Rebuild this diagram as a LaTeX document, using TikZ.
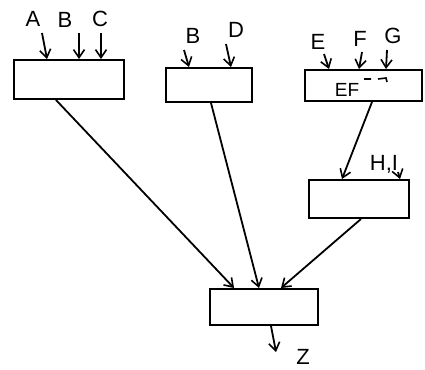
\documentclass[tikz,border=0pt]{standalone}
\usepackage{fontspec}
\setmainfont{Liberation Sans}
\usetikzlibrary{arrows.meta}
\begin{document}
\begin{tikzpicture}[x=1pt,y=-1pt,
  box/.style={draw,line width=2pt,rectangle,inner sep=0pt},
  lbl/.style={font=\fontsize{22}{24}\selectfont},
  wire/.style={line width=1.8pt,-{Straight Barb[length=8pt,width=11pt,line width=1.6pt]}},
  plain/.style={line width=1.6pt}]
\useasboundingbox (0,0) rectangle (425,369);
% boxes
\node[box,minimum width=110pt,minimum height=39pt] (b1) at (69,79.5) {};
\node[box,minimum width=86pt,minimum height=34pt] (b2) at (209,85) {};
\node[box,minimum width=117pt,minimum height=31pt] (b3) at (363.5,85.5) {};
\node[box,minimum width=100pt,minimum height=38pt] (b4) at (359,199) {};
\node[box,minimum width=108pt,minimum height=36pt] (b5) at (264,307) {};
% labels
\node[lbl] (A) at (33,19) {A};
\node[lbl] (B1) at (65,20) {B};
\node[lbl] (C) at (100,19) {C};
\node[lbl] (B2) at (193,36) {B};
\node[lbl] (D) at (236,30) {D};
\node[lbl] (E) at (318,42) {E};
\node[lbl] (F) at (360,39) {F};
\node[lbl] (G) at (393,36) {G};
\node[lbl] (HI) at (384,164) {H,I};
\node[lbl] (Z) at (303,357) {Z};
\node[font=\fontsize{19}{20}\selectfont] (ef) at (347,90) {EF};
\draw[plain] (364,79) -- (371,79) (378,79) -- (386,78) -- (387,82);
% free ends of input arrows
\coordinate (sa) at (42,33);
\coordinate (sb) at (79,33);
\coordinate (sc) at (101,33);
\coordinate (sb2) at (184,50);
\coordinate (sd) at (226,44);
\coordinate (se) at (324,54);
\coordinate (sf) at (362,52);
\coordinate (sg) at (387,50);
\coordinate (si) at (398,172);
\coordinate (ez) at (276,352);
% input arrows
\draw[wire] (sa) -- ([xshift=34pt]b1.north west);
\draw[wire] (sb) -- ([xshift=66pt]b1.north west);
\draw[wire] (sc) -- ([xshift=88pt]b1.north west);
\draw[wire] (sb2) -- ([xshift=24pt]b2.north west);
\draw[wire] (sd) -- ([xshift=66pt]b2.north west);
\draw[wire] (se) -- ([xshift=25pt]b3.north west);
\draw[wire] (sf) -- ([xshift=55pt]b3.north west);
\draw[wire] (sg) -- ([xshift=82pt]b3.north west);
\draw[wire] (si) -- ([xshift=-10pt]b4.north east);
% connectors between boxes
\draw[wire] ([xshift=43pt]b1.south west) -- ([xshift=25pt]b5.north west);
\draw[wire] ([xshift=46pt]b2.south west) -- ([xshift=50pt]b5.north west);
\draw[wire] ([xshift=68pt]b3.south west) -- ([xshift=34pt]b4.north west);
\draw[wire] ([xshift=53pt]b4.south west) -- ([xshift=72pt]b5.north west);
\draw[wire] ([xshift=62pt]b5.south west) -- (ez);
\end{tikzpicture}
\end{document}
